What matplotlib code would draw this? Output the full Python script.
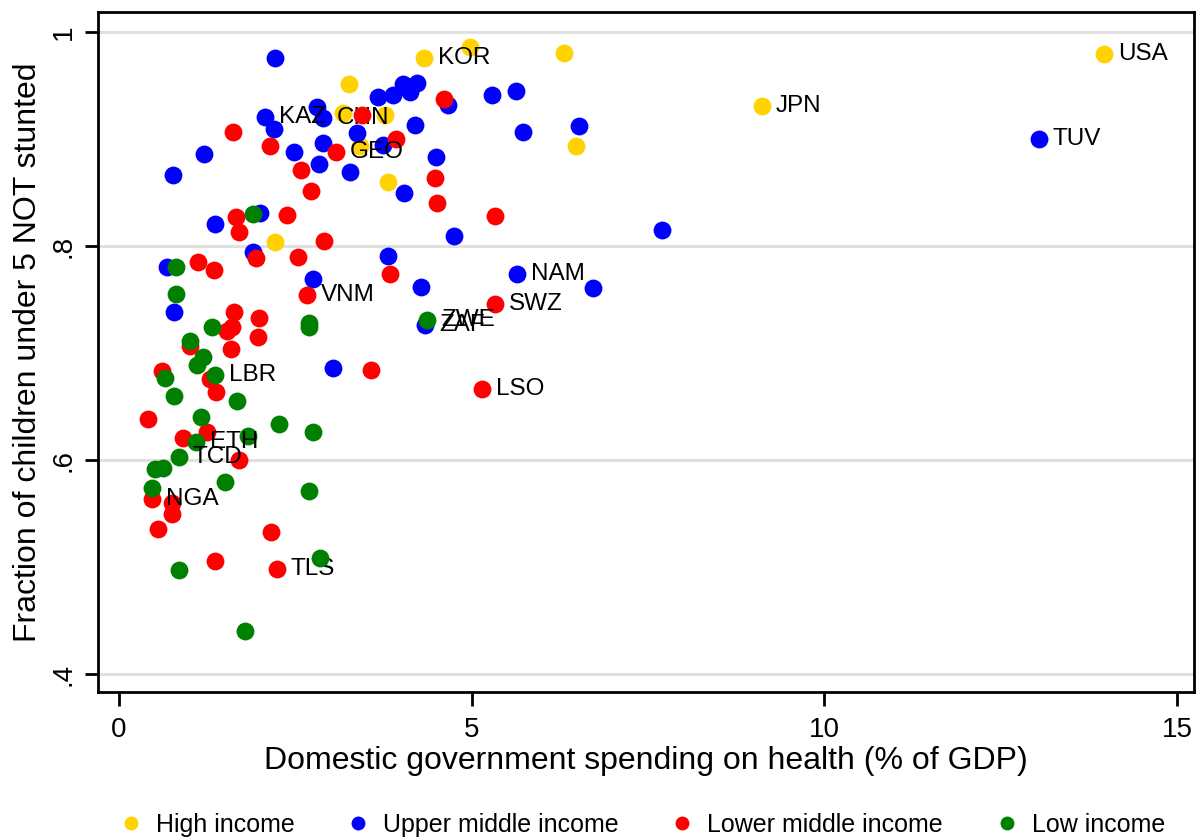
import matplotlib
matplotlib.use("Agg")
import matplotlib.pyplot as plt
from matplotlib.lines import Line2D

plt.rcParams['font.family'] = ['Liberation Sans', 'DejaVu Sans']

# ---------------- data ----------------
high_x = [3.261, 3.176, 3.771, 3.417, 3.814, 4.324, 4.977, 6.309, 6.479, 2.212, 9.117, 13.966]
high_y = [0.951, 0.924, 0.922, 0.893, 0.860, 0.976, 0.986, 0.980, 0.893, 0.804, 0.931, 0.979]
high_lab = ["", "", "", "", "", "KOR", "", "", "", "", "JPN", "USA"]

upper_x = [2.212, 2.807, 2.892, 2.070, 2.198, 1.205, 0.766, 2.481, 2.892, 2.836, 3.275,
           3.374, 3.672, 3.885, 4.027, 4.126, 4.225, 4.197, 3.743, 4.495, 4.041, 4.665,
           5.289, 5.629, 5.728, 6.522, 1.999, 1.361, 4.750, 1.900, 0.681, 3.814, 2.751,
           4.282, 5.643, 6.721, 7.699, 13.044, 4.339, 3.034, 0.780]
upper_y = [0.976, 0.930, 0.920, 0.921, 0.909, 0.886, 0.866, 0.888, 0.896, 0.877, 0.869,
           0.906, 0.939, 0.941, 0.951, 0.944, 0.952, 0.913, 0.894, 0.883, 0.850, 0.932,
           0.941, 0.945, 0.907, 0.912, 0.831, 0.821, 0.809, 0.794, 0.780, 0.791, 0.769,
           0.762, 0.774, 0.761, 0.815, 0.900, 0.726, 0.686, 0.738]
upper_lab = ["", "", "CHN", "KAZ", "", "", "", "", "", "", "",
             "", "", "", "", "", "", "", "", "", "", "",
             "", "", "", "", "", "", "", "", "", "", "",
             "", "NAM", "", "", "TUV", "ZAF", "", ""]

lower_x = [4.608, 3.445, 1.616, 2.141, 3.927, 3.077, 2.580, 2.722, 4.480, 4.509, 5.331,
           1.659, 2.382, 1.701, 2.907, 1.942, 2.538, 1.120, 1.347, 3.842, 2.666, 5.331,
           1.631, 1.985, 1.602, 1.531, 1.971, 1.588, 1.007, 0.610, 1.290, 1.375, 3.573,
           5.147, 0.411, 0.907, 1.248, 1.701, 0.468, 0.751, 0.751, 0.553, 2.155, 1.361, 2.240]
lower_y = [0.937, 0.922, 0.907, 0.893, 0.900, 0.888, 0.871, 0.851, 0.864, 0.840, 0.828,
           0.827, 0.829, 0.813, 0.805, 0.789, 0.790, 0.785, 0.778, 0.774, 0.754, 0.746,
           0.738, 0.733, 0.724, 0.721, 0.715, 0.704, 0.707, 0.683, 0.676, 0.664, 0.684,
           0.666, 0.638, 0.621, 0.626, 0.600, 0.564, 0.560, 0.550, 0.536, 0.533, 0.506, 0.498]
lower_lab = ["", "", "", "", "", "GEO", "", "", "", "", "",
             "", "", "", "", "", "", "", "", "", "VNM", "SWZ",
             "", "", "", "", "", "", "", "", "", "", "",
             "LSO", "", "", "", "", "NGA", "", "", "", "", "", "TLS"]

low_x = [1.900, 0.808, 0.808, 2.694, 2.694, 4.367, 1.319, 1.007, 1.191, 1.106, 0.652,
         1.361, 0.780, 1.673, 1.163, 2.269, 2.751, 1.829, 1.092, 0.851, 0.510, 0.624,
         0.468, 1.503, 2.694, 2.850, 0.851, 1.786]
low_y = [0.830, 0.780, 0.755, 0.728, 0.724, 0.731, 0.724, 0.711, 0.696, 0.689, 0.677,
         0.679, 0.660, 0.655, 0.640, 0.634, 0.626, 0.622, 0.617, 0.603, 0.592, 0.593,
         0.574, 0.579, 0.571, 0.508, 0.497, 0.440]
low_lab = ["", "", "", "", "", "ZWE", "", "", "", "", "",
           "LBR", "", "", "", "", "", "", "ETH", "TCD", "", "",
           "", "", "", "", "", ""]

group_names = ["High income", "Upper middle income", "Lower middle income", "Low income"]
group_colors = ["#FFD200", "#0000FF", "#FF0000", "#008000"]

x_ticks = [0, 5, 10, 15]
y_ticks = [0.4, 0.6, 0.8, 1.0]
y_tick_labels = [".4", ".6", ".8", "1"]

# ---------------- figure ----------------
fig = plt.figure(figsize=(11.96, 8.38), dpi=100)
ax = fig.add_axes([0.0819, 0.1742, 0.9164, 0.8115])

series = [(high_x, high_y, high_lab), (upper_x, upper_y, upper_lab),
          (lower_x, lower_y, lower_lab), (low_x, low_y, low_lab)]

for i, ((xs, ys, labs), col) in enumerate(zip(series, group_colors)):
    ax.scatter(xs, ys, s=165, color=col, linewidths=0, zorder=3 + 2 * i)
    for xv, yv, lab in zip(xs, ys, labs):
        if lab:
            ax.annotate(lab, (xv, yv), xytext=(10, 0), textcoords='offset points',
                        ha='left', va='center', fontsize=17.5, color='black',
                        zorder=4 + 2 * i)

ax.set_xlim(-0.298, 15.24)
ax.set_ylim(0.3832, 1.0187)
ax.set_xticks(x_ticks)
ax.set_xticklabels([str(t) for t in x_ticks])
ax.set_yticks(y_ticks)
ax.set_yticklabels(y_tick_labels, rotation=90, va='center')

ax.grid(axis='y', color='#E0E0E0', linewidth=2.2, zorder=1)
ax.set_axisbelow(True)
for sp in ax.spines.values():
    sp.set_linewidth(2.0)
    sp.set_color('black')

ax.tick_params(axis='both', labelsize=20, width=2.0, colors='black')
ax.tick_params(axis='x', length=10, pad=8)
ax.tick_params(axis='y', length=9.5, pad=6)

ax.set_xlabel("Domestic government spending on health (% of GDP)", fontsize=23, labelpad=2)
ax.set_ylabel("Fraction of children under 5 NOT stunted", fontsize=23, labelpad=5)

handles = [Line2D([0], [0], marker='o', linestyle='none', markersize=10,
                  markerfacecolor=c, markeredgewidth=0) for c in group_colors]
fig.legend(handles, group_names, loc='center', bbox_to_anchor=(0.5375, 0.0155),
           ncol=4, frameon=False, fontsize=18, handlelength=0.8, handletextpad=0.6,
           columnspacing=2.15, borderaxespad=0)

fig.savefig("out.png", dpi=100)
